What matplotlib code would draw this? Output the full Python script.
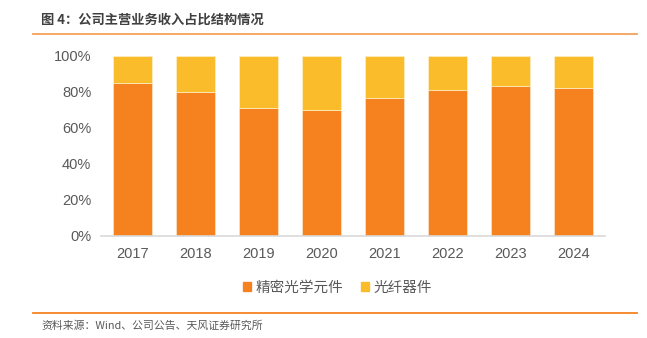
import matplotlib
matplotlib.use("Agg")
from matplotlib import pyplot as plt
from matplotlib.lines import Line2D
from matplotlib.patches import Patch

plt.rcParams['font.family'] = ['Noto Sans CJK SC', 'DejaVu Sans']

# Data (share of main business revenue)
years = ["2017", "2018", "2019", "2020", "2021", "2022", "2023", "2024"]
optics = [84.7, 80.0, 71.2, 70.1, 76.7, 81.1, 83.4, 82.1]   # 精密光学元件
fiber = [100 - v for v in optics]                          # 光纤器件

orange = "#F5821F"
yellow = "#FBBC2B"
gray = "#595959"

fig = plt.figure(figsize=(6.47, 3.38), dpi=100)
ax = fig.add_axes([0.156, 0.302, 0.779, 0.533])

x = range(len(years))
ax.bar(x, optics, width=0.62, color=orange, edgecolor="#FDE3C8", linewidth=0.5, label="精密光学元件")
ax.bar(x, fiber, width=0.62, bottom=optics, color=yellow, edgecolor="#FFF0C8", linewidth=0.5, label="光纤器件")

ax.set_xlim(-0.5, len(years) - 0.5)
ax.set_ylim(0, 100)
ax.set_yticks([0, 20, 40, 60, 80, 100])
ax.set_yticklabels([f"{v}%" for v in [0, 20, 40, 60, 80, 100]])
ax.set_xticks(list(x))
ax.set_xticklabels(years)
ax.tick_params(axis="both", length=0, labelsize=10.5, colors=gray, pad=8)
ax.tick_params(axis="y", pad=7)
for lab in ax.get_xticklabels() + ax.get_yticklabels():
    lab.set_family(["Liberation Sans", "DejaVu Sans"])
for s in ["top", "right", "left"]:
    ax.spines[s].set_visible(False)
ax.spines["bottom"].set_color("#D9D9D9")
ax.spines["bottom"].set_linewidth(1.2)

# legend
handles = [Patch(color=orange), Patch(color=yellow)]
fig.legend(handles, ["精密光学元件", "光纤器件"], loc="center", bbox_to_anchor=(0.522, 0.148),
           ncol=2, frameon=False, fontsize=10.5, handlelength=0.55, handleheight=0.55,
           handletextpad=0.3, columnspacing=1.2, labelcolor=gray)

# title and source with orange rules
fig.text(41 / 647, 1 - 20 / 338, "图 4：公司主营业务收入占比结构情况", fontsize=9.5,
         fontweight="bold", color="#404040", va="center", ha="left")
fig.add_artist(Line2D([33 / 647, 637 / 647], [1 - 34 / 338] * 2, color="#F5A05A", linewidth=1.3))
fig.add_artist(Line2D([33 / 647, 637 / 647], [1 - 313 / 338] * 2, color="#F5821F", linewidth=1.3))
fig.text(41 / 647, 1 - 326 / 338, "资料来源：Wind、公司公告、天风证券研究所", fontsize=7.8,
         color=gray, va="center", ha="left")

fig.savefig("out.png", dpi=100)
